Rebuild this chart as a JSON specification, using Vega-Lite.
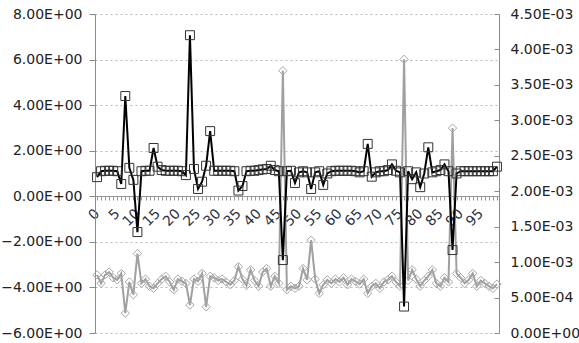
{
  "$schema": "https://vega.github.io/schema/vega-lite/v6.json",
  "autosize": "none",
  "width": 404,
  "height": 319,
  "padding": {"left": 95, "top": 14, "right": 80, "bottom": 10},
  "background": "white",
  "config": {
    "view": {"stroke": null},
    "font": "DejaVu Sans",
    "axis": {"labelFont": "DejaVu Sans", "labelColor": "#222222", "domainColor": "#8c8c8c", "tickColor": "#8c8c8c"}
  },
  "data": {"values": [
    {"i":0,"b":0.84,"g":0.00082},{"i":1,"b":1.1,"g":0.00070},{"i":2,"b":1.12,"g":0.00082},{"i":3,"b":1.12,"g":0.00086},{"i":4,"b":1.12,"g":0.00078},
    {"i":5,"b":1.1,"g":0.00075},{"i":6,"b":0.54,"g":0.00084},{"i":7,"b":4.4,"g":0.00028},{"i":8,"b":1.25,"g":0.00072},{"i":9,"b":0.72,"g":0.00054},
    {"i":10,"b":-1.57,"g":0.00112},{"i":11,"b":1.1,"g":0.00070},{"i":12,"b":1.12,"g":0.00076},{"i":13,"b":1.12,"g":0.00066},{"i":14,"b":2.12,"g":0.00063},
    {"i":15,"b":1.3,"g":0.00070},{"i":16,"b":1.15,"g":0.00076},{"i":17,"b":1.12,"g":0.00080},{"i":18,"b":1.12,"g":0.00072},{"i":19,"b":1.12,"g":0.00061},
    {"i":20,"b":1.12,"g":0.00076},{"i":21,"b":1.1,"g":0.00073},{"i":22,"b":0.93,"g":0.00070},{"i":23,"b":7.07,"g":0.000395},{"i":24,"b":1.2,"g":0.00076},
    {"i":25,"b":0.32,"g":0.00073},{"i":26,"b":0.64,"g":0.00084},{"i":27,"b":1.34,"g":0.00037},{"i":28,"b":2.86,"g":0.00080},{"i":29,"b":1.12,"g":0.00078},
    {"i":30,"b":1.12,"g":0.00074},{"i":31,"b":1.12,"g":0.00076},{"i":32,"b":1.12,"g":0.00072},{"i":33,"b":1.12,"g":0.00068},{"i":34,"b":1.1,"g":0.00074},
    {"i":35,"b":0.25,"g":0.000935},{"i":36,"b":0.45,"g":0.00076},{"i":37,"b":1.1,"g":0.00067},{"i":38,"b":1.12,"g":0.00089},{"i":39,"b":1.12,"g":0.00074},
    {"i":40,"b":1.15,"g":0.00066},{"i":41,"b":1.18,"g":0.00086},{"i":42,"b":1.2,"g":0.00091},{"i":43,"b":1.34,"g":0.00066},{"i":44,"b":1.15,"g":0.00080},
    {"i":45,"b":1.1,"g":0.00070},{"i":46,"b":-2.8,"g":0.00370},{"i":47,"b":1.1,"g":0.00061},{"i":48,"b":1.12,"g":0.00066},{"i":49,"b":0.58,"g":0.00063},
    {"i":50,"b":1.05,"g":0.00066},{"i":51,"b":1.1,"g":0.00091},{"i":52,"b":1.05,"g":0.00075},{"i":53,"b":0.32,"g":0.00131},{"i":54,"b":1.05,"g":0.00076},
    {"i":55,"b":1.1,"g":0.00056},{"i":56,"b":0.5,"g":0.00068},{"i":57,"b":1.0,"g":0.00075},{"i":58,"b":1.1,"g":0.00070},{"i":59,"b":1.12,"g":0.00076},
    {"i":60,"b":1.12,"g":0.00072},{"i":61,"b":1.12,"g":0.00078},{"i":62,"b":1.12,"g":0.00068},{"i":63,"b":1.12,"g":0.00076},{"i":64,"b":1.1,"g":0.00073},
    {"i":65,"b":1.05,"g":0.00069},{"i":66,"b":1.1,"g":0.00076},{"i":67,"b":2.3,"g":0.00056},{"i":68,"b":0.86,"g":0.00066},{"i":69,"b":1.05,"g":0.00070},
    {"i":70,"b":1.1,"g":0.00063},{"i":71,"b":1.1,"g":0.00072},{"i":72,"b":1.15,"g":0.00075},{"i":73,"b":1.4,"g":0.00080},{"i":74,"b":1.12,"g":0.00072},
    {"i":75,"b":1.05,"g":0.00066},{"i":76,"b":-4.84,"g":0.00386},{"i":77,"b":1.1,"g":0.00074},{"i":78,"b":0.75,"g":0.00089},{"i":79,"b":1.05,"g":0.00076},
    {"i":80,"b":0.4,"g":0.00066},{"i":81,"b":1.0,"g":0.00074},{"i":82,"b":2.15,"g":0.00080},{"i":83,"b":1.05,"g":0.00089},{"i":84,"b":1.1,"g":0.00070},
    {"i":85,"b":1.15,"g":0.00066},{"i":86,"b":1.4,"g":0.00078},{"i":87,"b":1.1,"g":0.00072},{"i":88,"b":-2.36,"g":0.00289},{"i":89,"b":1.0,"g":0.00084},
    {"i":90,"b":1.1,"g":0.00078},{"i":91,"b":1.1,"g":0.00070},{"i":92,"b":1.1,"g":0.00075},{"i":93,"b":1.1,"g":0.00084},{"i":94,"b":1.1,"g":0.00066},
    {"i":95,"b":1.1,"g":0.00074},{"i":96,"b":1.1,"g":0.00070},{"i":97,"b":1.1,"g":0.00066},{"i":98,"b":1.1,"g":0.00063},{"i":99,"b":1.3,"g":0.00069}
  ]},
  "encoding": {
    "x": {
      "field": "i", "type": "quantitative",
      "scale": {"domain": [-0.5, 99.5], "nice": false, "zero": false},
      "axis": {
        "title": null, "orient": "bottom", "offset": -137,
        "values": [0,1,2,3,4,5,6,7,8,9,10,11,12,13,14,15,16,17,18,19,20,21,22,23,24,25,26,27,28,29,30,31,32,33,34,35,36,37,38,39,40,41,42,43,44,45,46,47,48,49,50,51,52,53,54,55,56,57,58,59,60,61,62,63,64,65,66,67,68,69,70,71,72,73,74,75,76,77,78,79,80,81,82,83,84,85,86,87,88,89,90,91,92,93,94,95,96,97,98,99],
        "labelExpr": "datum.value % 5 == 0 ? datum.label : ''",
        "labelAngle": -45, "labelAlign": "right", "labelBaseline": "middle",
        "labelPadding": 11, "labelOffset": 0, "labelFontSize": 14, "labelColor": "#2b3040",
        "labelOverlap": false, "labelBound": false, "labelFlush": false,
        "tickSize": 4, "grid": false, "domainColor": "#999999", "tickColor": "#999999"
      }
    }
  },
  "layer": [
    {
      "mark": {"type": "line", "color": "#a0a0a0", "strokeWidth": 2,
               "point": {"shape": "diamond", "filled": false, "size": 70, "stroke": "#a6a6a6", "strokeWidth": 1}},
      "encoding": {
        "y": {"field": "g", "type": "quantitative",
              "scale": {"domain": [0, 0.0045], "nice": false, "zero": false},
              "axis": {"orient": "right", "title": null, "values": [0,0.0005,0.001,0.0015,0.002,0.0025,0.003,0.0035,0.004,0.0045],
                       "labelExpr": "datum.value == 0 ? '0.00E+00' : (datum.value < 0.00095 ? format(datum.value*10000, '.2f') + 'E-04' : format(datum.value*1000, '.2f') + 'E-03')",
                       "labelFontSize": 14, "tickSize": -5, "labelPadding": 16, "grid": false}}
      }
    },
    {
      "mark": {"type": "line", "color": "#000000", "strokeWidth": 2,
               "point": {"shape": "square", "filled": false, "size": 80, "stroke": "#333333", "strokeWidth": 1}},
      "encoding": {
        "y": {"field": "b", "type": "quantitative",
              "scale": {"domain": [-6, 8], "nice": false, "zero": false},
              "axis": {"orient": "left", "title": null, "values": [-6,-4,-2,0,2,4,6,8],
                       "labelExpr": "format(datum.value, '.2f') + 'E+00'",
                       "labelFontSize": 14, "tickSize": 6, "labelPadding": 7,
                       "grid": true, "gridColor": "#b8b8b8", "gridDash": [2, 3], "gridWidth": 1}}
      }
    }
  ],
  "resolve": {"scale": {"y": "independent"}}
}
